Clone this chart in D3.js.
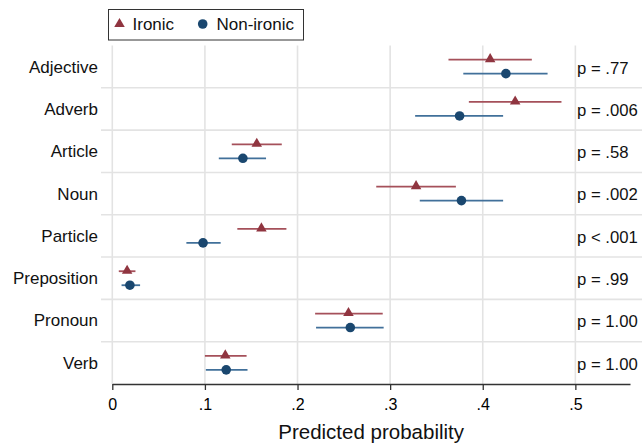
<!DOCTYPE html>
<html><head><meta charset="utf-8">
<script src="https://cdn.jsdelivr.net/npm/d3@7"></script>
<style>
html,body{margin:0;padding:0;background:#fff;}
svg{display:block;font-family:"Liberation Sans",Arial,sans-serif;}
</style></head>
<body>
<svg id="chart" width="642" height="443"></svg>
<script>
const categories = ["Adjective","Adverb","Article","Noun","Particle","Preposition","Pronoun","Verb"];
const ironicEst = [0.408, 0.435, 0.156, 0.328, 0.161, 0.016, 0.255, 0.122];
const ironicLo  = [0.363, 0.385, 0.129, 0.285, 0.135, 0.007, 0.219, 0.100];
const ironicHi  = [0.453, 0.485, 0.183, 0.371, 0.188, 0.025, 0.292, 0.145];
const nonIronicEst = [0.425, 0.375, 0.141, 0.377, 0.098, 0.019, 0.257, 0.123];
const nonIronicLo  = [0.379, 0.327, 0.115, 0.332, 0.080, 0.010, 0.220, 0.101];
const nonIronicHi  = [0.470, 0.422, 0.166, 0.422, 0.117, 0.030, 0.293, 0.146];
const pLabels = ["p = .77","p = .006","p = .58","p = .002","p < .001","p = .99","p = 1.00","p = 1.00"];
const xTicks = [0, 0.1, 0.2, 0.3, 0.4, 0.5];
const seriesNames = ["Ironic","Non-ironic"];

(function(){
const svg = d3.select("#chart");
const pL = 112.3, pR = 630, pT = 45.5, pB = 384;
const x = d3.scaleLinear().domain([0, 0.559]).range([pL, pR]);
const y = d3.scaleBand().domain(categories).range([pT, pB]);
const off = 7;
const grid = "#e3e3e3";
const red = "#903540", redLine = "#a5505a";
const blue = "#1a476f", blueLine = "#41709a";

// horizontal separators
svg.append("g").selectAll("line").data(categories.slice(1)).join("line")
  .attr("x1", 101).attr("x2", 642)
  .attr("y1", d => y(d)).attr("y2", d => y(d))
  .attr("stroke", grid).attr("stroke-width", 1.6);
// vertical gridlines
svg.append("g").selectAll("line").data(xTicks).join("line")
  .attr("x1", d => x(d)).attr("x2", d => x(d))
  .attr("y1", pT).attr("y2", pB)
  .attr("stroke", grid).attr("stroke-width", 1.6);

// axis
const axis = d3.axisBottom(x).tickValues(xTicks).tickSize(6).tickSizeOuter(0)
  .tickFormat(d => d === 0 ? "0" : d3.format(".1f")(d).replace(/^0/, ""));
const ag = svg.append("g").attr("transform", `translate(0,${pB})`).call(axis);
ag.select(".domain").attr("stroke", "#333").attr("stroke-width", 1.3);
ag.selectAll(".tick line").attr("stroke", "#333").attr("stroke-width", 1.3);
ag.selectAll(".tick text").attr("font-size", 16).attr("fill", "#000").attr("dy", "1.05em")
  .attr("font-family", "Liberation Sans, Arial, sans-serif");

svg.append("text").attr("x", (pL + pR) / 2).attr("y", 439)
  .attr("text-anchor", "middle").attr("font-size", 20.5).attr("fill", "#111")
  .text("Predicted probability");

// category labels
svg.append("g").selectAll("text").data(categories).join("text")
  .attr("x", 98).attr("y", d => y(d) + y.bandwidth() / 2)
  .attr("dy", "0.35em").attr("text-anchor", "end")
  .attr("font-size", 17).attr("fill", "#111").text(d => d);

// p labels
svg.append("g").selectAll("text").data(categories).join("text")
  .attr("x", 577).attr("y", d => y(d) + y.bandwidth() / 2 + 1)
  .attr("dy", "0.35em").attr("font-size", 16.7).attr("fill", "#111")
  .text((d, i) => pLabels[i]);

const ironic = categories.map((c, i) => ({c, est: ironicEst[i], lo: ironicLo[i], hi: ironicHi[i]}));
const nonIronic = categories.map((c, i) => ({c, est: nonIronicEst[i], lo: nonIronicLo[i], hi: nonIronicHi[i]}));
const cy = d => y(d.c) + y.bandwidth() / 2;

// CIs
svg.append("g").selectAll("line").data(ironic).join("line")
  .attr("x1", d => x(d.lo)).attr("x2", d => x(d.hi))
  .attr("y1", d => cy(d) - off).attr("y2", d => cy(d) - off)
  .attr("stroke", redLine).attr("stroke-width", 1.8);
svg.append("g").selectAll("line").data(nonIronic).join("line")
  .attr("x1", d => x(d.lo)).attr("x2", d => x(d.hi))
  .attr("y1", d => cy(d) + off).attr("y2", d => cy(d) + off)
  .attr("stroke", blueLine).attr("stroke-width", 1.8);

const tri = d3.symbol().type(d3.symbolTriangle).size(48);
svg.append("g").selectAll("path").data(ironic).join("path")
  .attr("d", tri).attr("transform", d => `translate(${x(d.est)},${cy(d) - off - 0.5})`)
  .attr("fill", red);
svg.append("g").selectAll("circle").data(nonIronic).join("circle")
  .attr("cx", d => x(d.est)).attr("cy", d => cy(d) + off).attr("r", 4.8)
  .attr("fill", blue);

// legend
const lg = svg.append("g");
lg.append("rect").attr("x", 108.5).attr("y", 9.5).attr("width", 195).attr("height", 30.5)
  .attr("fill", "#fff").attr("stroke", "#333").attr("stroke-width", 1);
lg.append("path").attr("d", tri).attr("transform", "translate(119.5,24)").attr("fill", red);
lg.append("text").attr("x", 132.5).attr("y", 24).attr("dy", "0.35em").attr("font-size", 17)
  .attr("fill", "#111").text(seriesNames[0]);
lg.append("circle").attr("cx", 202.7).attr("cy", 24).attr("r", 4.8).attr("fill", blue);
lg.append("text").attr("x", 216.5).attr("y", 24).attr("dy", "0.35em").attr("font-size", 17)
  .attr("fill", "#111").text(seriesNames[1]);
})();
</script>
</body></html>
